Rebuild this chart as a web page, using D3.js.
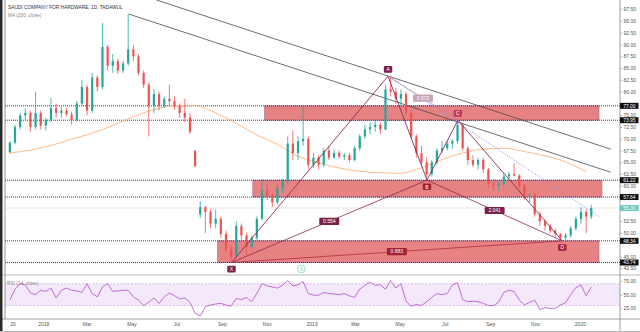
<!DOCTYPE html>
<html><head><meta charset="utf-8">
<script src="https://cdn.jsdelivr.net/npm/d3@7"></script>
<style>
html,body{margin:0;padding:0;background:#fff;}
svg{display:block;font-family:"Liberation Sans",Arial,sans-serif;}
</style></head><body>
<svg id="chart" width="640" height="332"></svg>
<script>
// ---------------- DATA ----------------
const title = "SAUDI COMPANY FOR HARDWARE, 1D, TADAWUL";
const maTitle = "MA (200, close)";
const rsiTitle = "RSI (14, close)";
const candleStart = "2017-11-13";
const candleStepDays = 7;
// weekly [open, high, low, close]
const candles = [
[67.2,69.5,66.8,69.2],[69.2,73.0,68.8,72.5],[72.5,75.5,72.0,75.0],[75.0,76.5,74.0,75.5],
[75.5,76.0,71.5,72.5],[72.5,80.0,72.0,75.5],[75.5,76.0,72.0,72.8],[72.8,74.5,71.8,74.0],
[74.0,78.7,73.5,76.5],[76.5,77.5,74.5,75.5],[75.5,76.8,74.5,76.0],[76.0,76.5,74.8,75.2],
[75.2,75.8,73.0,74.0],[74.0,78.0,73.8,77.5],[77.5,82.5,77.0,81.0],[81.0,81.5,75.0,76.0],
[76.0,84.0,75.5,83.0],[83.0,83.5,80.0,81.0],[81.0,94.6,80.5,89.5],[89.5,90.0,84.5,85.5],
[85.5,88.0,84.0,86.5],[86.5,87.0,83.8,84.5],[84.5,86.5,84.0,86.0],[86.0,96.5,85.5,89.0],
[89.0,90.0,86.5,87.5],[87.5,88.0,83.5,84.0],[84.0,84.5,80.8,81.5],[81.5,82.0,70.5,77.0],
[77.0,80.5,75.5,79.5],[79.5,80.0,76.0,77.0],[77.0,79.0,76.5,78.5],[78.5,81.5,77.0,78.0],
[78.0,79.0,76.2,77.0],[77.0,77.5,74.5,75.5],[75.5,78.5,73.5,74.5],[74.5,75.5,71.0,71.5],
[67.5,67.5,64.0,64.2],[54.0,56.8,53.2,55.5],[55.5,55.8,50.0,54.5],[54.5,55.0,51.0,52.0],
[52.0,55.0,51.0,53.0],[53.0,53.5,49.0,49.8],[49.8,50.5,46.0,46.5],[46.5,47.5,43.8,45.0],
[45.0,52.5,44.8,51.5],[51.5,52.0,48.5,49.5],[49.5,50.0,45.5,47.0],[47.0,49.5,46.5,49.0],
[49.0,53.5,48.5,53.0],[53.0,61.5,52.8,59.0],[59.0,60.5,57.0,58.0],[58.0,58.5,55.5,56.5],
[56.5,60.5,56.0,59.5],[59.5,61.5,58.5,61.0],[61.0,70.5,60.5,69.0],[69.0,71.8,65.5,67.0],
[67.0,70.5,65.5,69.5],[69.5,76.8,68.5,70.0],[70.0,70.5,63.5,64.5],[64.5,67.0,63.8,66.0],
[66.0,66.5,63.5,64.5],[64.5,68.0,64.0,67.5],[67.5,68.5,65.5,66.0],[66.0,67.8,65.8,67.0],
[67.0,67.5,65.8,66.2],[66.2,67.0,65.5,66.5],[66.5,67.0,65.0,65.5],[65.5,68.5,65.2,68.0],
[68.0,71.0,67.5,70.5],[70.5,73.0,70.0,72.0],[72.0,73.5,71.0,72.5],[72.5,73.8,71.5,73.0],
[73.0,73.5,71.0,72.0],[72.0,81.5,71.8,80.5],[80.5,83.4,79.0,80.0],[80.0,80.8,77.5,78.5],
[78.5,80.5,77.0,79.5],[79.5,80.0,75.0,75.5],[75.5,76.0,70.0,70.5],[70.5,71.0,66.0,67.0],
[67.0,68.5,64.5,65.0],[65.0,66.0,61.3,62.5],[62.5,65.5,62.0,65.0],[65.0,68.0,64.5,67.5],
[67.5,69.5,67.0,68.0],[68.0,69.5,67.5,69.0],[69.0,70.0,67.8,69.5],[69.5,73.6,69.0,73.0],
[73.0,73.2,67.5,68.0],[68.0,68.5,64.5,65.5],[65.5,66.5,64.0,64.5],[64.5,66.0,63.5,65.5],
[65.5,66.0,62.8,63.5],[63.5,63.8,59.5,60.5],[60.5,61.5,59.0,60.0],[60.0,61.0,59.0,60.5],
[60.5,62.8,60.0,62.0],[62.0,63.0,61.0,62.5],[62.5,64.8,62.0,62.2],[62.2,62.5,59.5,60.0],
[60.0,60.5,57.0,58.0],[58.0,58.5,56.5,58.2],[58.2,58.5,53.5,54.0],[54.0,54.5,51.5,52.5],
[52.5,53.0,50.5,51.5],[51.5,52.0,50.0,50.5],[50.5,51.0,49.2,49.8],[49.8,50.0,48.5,49.0],
[49.0,50.0,48.4,49.5],[49.5,51.5,49.0,51.0],[51.0,53.5,50.5,53.0],[53.0,55.5,52.0,54.5],
[54.5,55.0,50.0,53.5],[53.5,56.0,53.0,55.3]
];
// RSI(14) read at each weekly candle
const rsiValues = [40,60,70,68,53,50,58,56,62,44,58,62,58,57,54,70,52,46,64,70,
56,57,58,58,46,40,30,36,44,34,46,53,48,42,44,36,16,11,28,31,
33,34,31,29,43,41,45,37,52,70,66,64,62,67,76,66,68,74,52,49,
49,54,52,51,50,52,48,45,60,67,73,67,68,60,76,62,70,38,29,32,
30,37,45,52,50,52,68,72,41,37,38,37,34,30,30,36,54,58,56,40,
31,36,40,23,26,25,25,31,35,50,63,68,48,64];
// MA(200) read every 4th weekly candle
const maEvery = 4;
const maValues = [67.0,67.6,68.6,69.9,71.2,72.8,74.7,76.2,77.0,77.0,75.5,73.3,70.8,68.8,
66.3,64.9,63.8,63.1,62.8,62.7,63.9,65.6,67.0,67.8,68.0,67.3,66.4,65.1,63.0];

const priceTicks = [42.5,45,47.5,50,52.5,55,57.5,60,62.5,65,67.5,70,72.5,75,77.5,80,82.5,85,87.5,90,92.5,95,97.5];
const rsiTicks = [75,50,25];
const levelPrices = [77.00, 73.95, 61.22, 57.64, 48.34, 43.74];
const lastPrice = 55.30;
const zones = [
  {from:"2018-10-29", to:"2020-01-27", top:77.00, bottom:73.95},
  {from:"2018-10-13", to:"2020-01-31", top:61.22, bottom:57.64},
  {from:"2018-08-26", to:"2020-01-27", top:48.34, bottom:43.74}
];
const channels = [
  [["2018-06-04", 99.47], ["2020-02-12", 67.8]],
  [["2018-04-27", 96.5], ["2020-02-12", 62.9]]
];
const patternNames = ["X","A","B","C","D"];
const patternDates = ["2018-09-14","2019-04-15","2019-06-07","2019-07-19","2019-12-08"];
const patternPrices = [43.74, 83.3, 61.22, 73.95, 48.34];
const ratioLegs = [["X","B"],["A","C"],["B","D"],["X","D"]];
const ratioValues = ["0.554","0.572","2.041","0.883"];
const blueTrend = [["2019-04-15", 83.3], ["2020-01-28", 53.4]];
const eventDate = "2018-12-18";
const eventLabel = "S";
const timeTickDates = ["2017-11-20","2018-01-01","2018-03-01","2018-05-01","2018-07-01","2018-09-01","2018-11-01",
  "2019-01-01","2019-03-01","2019-05-01","2019-07-01","2019-09-01","2019-11-01","2020-01-01"];
const timeTickLabels = ["20","2018","Mar","May","Jul","Sep","Nov","2019","Mar","May","Jul","Sep","Nov","2020"];

// ---------------- LAYOUT ----------------
const parse = d3.utcParse("%Y-%m-%d");
const svg = d3.select("#chart");
const L = 5, R = 620, mainTop = 0, mainBottom = 275, rsiTop = 275, rsiBottom = 319;
const DAY = 864e5;
const x = d3.scaleUtc().domain([parse("2018-01-01"), parse("2020-01-01")]).range([43.3, 579.9]);
const y = d3.scaleLinear().domain([41.09, 99.47]).range([mainBottom, mainTop]);
const yr = d3.scaleLinear().domain([5.4, 86]).range([rsiBottom, rsiTop]);
const start = parse(candleStart);
const cDate = i => new Date(start.getTime() + (i * candleStepDays + 3.5) * DAY);

const UP = "#26a69a", DOWN = "#ef5350";

svg.append("rect").attr("width", 640).attr("height", 332).attr("fill", "#fff");

const defs = svg.append("defs");
defs.append("clipPath").attr("id", "mainClip").append("rect")
  .attr("x", L).attr("y", mainTop).attr("width", R - L).attr("height", mainBottom - mainTop);
defs.append("clipPath").attr("id", "rsiClip").append("rect")
  .attr("x", L).attr("y", rsiTop).attr("width", R - L).attr("height", rsiBottom - rsiTop);

const main = svg.append("g").attr("clip-path", "url(#mainClip)");

// zones
main.selectAll("rect.zone").data(zones).join("rect").attr("class", "zone")
  .attr("x", d => x(parse(d.from))).attr("width", d => x(parse(d.to)) - x(parse(d.from)))
  .attr("y", d => y(d.top)).attr("height", d => y(d.bottom) - y(d.top))
  .attr("fill", "rgb(228,116,116)").attr("fill-opacity", 0.9)
  .attr("stroke", "#9a6f9c").attr("stroke-width", 0.6);

// level dotted lines
main.selectAll("line.lvl").data(levelPrices).join("line")
  .attr("x1", L).attr("x2", R).attr("y1", d => y(d)).attr("y2", d => y(d))
  .attr("stroke", "#222").attr("stroke-width", 0.9).attr("stroke-dasharray", "1,1");
main.append("line").attr("x1", L).attr("x2", R).attr("y1", y(lastPrice)).attr("y2", y(lastPrice))
  .attr("stroke", "#8fd6cf").attr("stroke-width", 0.8).attr("stroke-dasharray", "1,1");

// MA
main.append("path").datum(maValues)
  .attr("d", d3.line().x((d, i) => x(cDate(i * maEvery))).y(d => y(d)).curve(d3.curveMonotoneX))
  .attr("fill", "none").attr("stroke", "#ffb98a").attr("stroke-width", 1);

// channel lines
main.selectAll("line.ch").data(channels).join("line")
  .attr("x1", d => x(parse(d[0][0]))).attr("y1", d => y(d[0][1]))
  .attr("x2", d => x(parse(d[1][0]))).attr("y2", d => y(d[1][1]))
  .attr("stroke", "#4a4a4a").attr("stroke-width", 0.8);

// candles
const bw = 2.2;
const cg = main.append("g");
candles.forEach((c, i) => {
  const [o, h, l, cl] = c;
  const col = cl >= o ? UP : DOWN;
  const cx = x(cDate(i));
  cg.append("line").attr("x1", cx).attr("x2", cx).attr("y1", y(h)).attr("y2", y(l))
    .attr("stroke", col).attr("stroke-width", 0.8);
  const top = y(Math.max(o, cl)), bot = y(Math.min(o, cl));
  cg.append("rect").attr("x", cx - bw / 2).attr("width", bw)
    .attr("y", top).attr("height", Math.max(0.8, bot - top)).attr("fill", col);
});

// blue dotted trend
main.append("line")
  .attr("x1", x(parse(blueTrend[0][0]))).attr("y1", y(blueTrend[0][1]))
  .attr("x2", x(parse(blueTrend[1][0]))).attr("y2", y(blueTrend[1][1]))
  .attr("stroke", "#7f8cf0").attr("stroke-width", 0.9).attr("stroke-dasharray", "1.2,1.6");

// pattern
const P = {};
patternNames.forEach((n, i) => P[n] = {x: x(parse(patternDates[i])), y: y(patternPrices[i])});
const legColor = "#8c2a55";
const legs = [["X","A"],["A","B"],["B","C"],["C","D"]];
main.selectAll("line.leg").data(legs).join("line")
  .attr("x1", d => P[d[0]].x).attr("y1", d => P[d[0]].y)
  .attr("x2", d => P[d[1]].x).attr("y2", d => P[d[1]].y)
  .attr("stroke", legColor).attr("stroke-width", 0.9);
main.selectAll("line.rleg").data(ratioLegs).join("line")
  .attr("x1", d => P[d[0]].x).attr("y1", d => P[d[0]].y)
  .attr("x2", d => P[d[1]].x).attr("y2", d => P[d[1]].y)
  .attr("stroke", (d, i) => i === 3 ? "#b0303f" : i === 1 ? "#b58aa0" : legColor)
  .attr("stroke-width", 0.8);

// ratio labels
ratioLegs.forEach((d, i) => {
  const mx = (P[d[0]].x + P[d[1]].x) / 2, my = (P[d[0]].y + P[d[1]].y) / 2;
  const g = main.append("g").attr("transform", `translate(${mx},${my})`);
  const bg = i === 1 ? "#c9a3b8" : i === 3 ? "#a51f35" : "#7d2149";
  g.append("rect").attr("x", -10).attr("y", -3.6).attr("width", 20).attr("height", 7.2)
    .attr("rx", 1).attr("fill", bg);
  g.append("text").attr("text-anchor", "middle").attr("dy", "1.8").attr("font-size", 5)
    .attr("fill", "#fff").text(ratioValues[i]);
});

// point labels
patternNames.forEach((n, i) => {
  const up = (n === "A" || n === "C");
  const ly = up ? P[n].y - 6.8 : P[n].y + 6.6;
  const bg = (n === "X" || n === "A") ? "#7d2149" : (n === "C" ? "#c0395a" : "#a51f35");
  const g = main.append("g").attr("transform", `translate(${P[n].x},${ly})`);
  g.append("rect").attr("x", -4.2).attr("y", -3.3).attr("width", 8.4).attr("height", 6.6)
    .attr("rx", 1).attr("fill", bg);
  g.append("text").attr("text-anchor", "middle").attr("dy", "1.8").attr("font-size", 5)
    .attr("fill", "#fff").text(n);
});

// event marker
const ev = main.append("g").attr("transform", `translate(${x(parse(eventDate))},${mainBottom - 6})`);
ev.append("circle").attr("r", 3.8).attr("fill", "#fff").attr("stroke", "#7fd3b0").attr("stroke-width", 0.8);
ev.append("text").attr("text-anchor", "middle").attr("dy", "1.7").attr("font-size", 4.8)
  .attr("fill", "#7fd3b0").text(eventLabel);

// ---- RSI pane ----
const rsiG = svg.append("g").attr("clip-path", "url(#rsiClip)");
rsiG.append("rect").attr("x", L).attr("width", R - L).attr("y", yr(70)).attr("height", yr(30) - yr(70))
  .attr("fill", "#f4e8fb");
rsiG.selectAll("line.rb").data([70, 30]).join("line")
  .attr("x1", L).attr("x2", R).attr("y1", d => yr(d)).attr("y2", d => yr(d))
  .attr("stroke", "#cfa9e0").attr("stroke-width", 0.7).attr("stroke-dasharray", "2,1.5");
rsiG.append("path").datum(rsiValues)
  .attr("d", d3.line().x((d, i) => x(cDate(i))).y(d => yr(d)))
  .attr("fill", "none").attr("stroke", "#b760d2").attr("stroke-width", 0.9);

// ---- frame ----
svg.append("line").attr("x1", L).attr("x2", L).attr("y1", 0).attr("y2", rsiBottom).attr("stroke", "#777").attr("stroke-width", 0.8);
svg.append("line").attr("x1", R).attr("x2", R).attr("y1", 0).attr("y2", 332).attr("stroke", "#888").attr("stroke-width", 0.8);
svg.append("line").attr("x1", 0).attr("x2", 640).attr("y1", mainBottom).attr("y2", mainBottom).attr("stroke", "#999").attr("stroke-width", 0.7);
svg.append("line").attr("x1", 0).attr("x2", 640).attr("y1", rsiBottom).attr("y2", rsiBottom).attr("stroke", "#888").attr("stroke-width", 0.8);
svg.append("rect").attr("x", 0).attr("y", 0).attr("width", 2.5).attr("height", 332).attr("fill", "#2a2a2a");
svg.append("line").attr("x1", 0).attr("x2", 640).attr("y1", 331.5).attr("y2", 331.5).attr("stroke", "#bbb").attr("stroke-width", 1);

// ---- price axis ----
const boxPrices = levelPrices.concat([lastPrice]);
const shownTicks = priceTicks.filter(t => boxPrices.every(b => Math.abs(b - t) >= 1));
const pAxis = svg.append("g").attr("transform", `translate(${R},0)`)
  .call(d3.axisRight(y).tickValues(shownTicks).tickSize(2).tickPadding(1.5).tickFormat(d3.format(".2f")));
pAxis.select(".domain").remove();
pAxis.selectAll("line").attr("stroke", "#888").attr("stroke-width", 0.6);
pAxis.selectAll("text").attr("font-size", 5).attr("fill", "#555").attr("font-family", "Liberation Sans, Arial, sans-serif");

// price boxes
boxPrices.forEach(p => {
  const g = svg.append("g").attr("transform", `translate(${R},${y(p)})`);
  g.append("rect").attr("x", 0).attr("y", -3).attr("width", 18.5).attr("height", 6)
    .attr("fill", p === lastPrice ? "#6cc7bc" : "#111");
  g.append("text").attr("x", 9.4).attr("dy", "1.8").attr("text-anchor", "middle").attr("font-size", 5)
    .attr("fill", "#fff").text(d3.format(".2f")(p));
});

// rsi axis
const rAxis = svg.append("g").attr("transform", `translate(${R},0)`)
  .call(d3.axisRight(yr).tickValues(rsiTicks).tickSize(2).tickPadding(1.5).tickFormat(d3.format(".2f")));
rAxis.select(".domain").remove();
rAxis.selectAll("line").attr("stroke", "#888").attr("stroke-width", 0.6);
rAxis.selectAll("text").attr("font-size", 5).attr("fill", "#555").attr("font-family", "Liberation Sans, Arial, sans-serif");

// time axis
const tAxis = svg.append("g").attr("transform", `translate(0,${rsiBottom})`)
  .call(d3.axisBottom(x).tickValues(timeTickDates.map(parse)).tickSize(0).tickPadding(3)
    .tickFormat((d, i) => timeTickLabels[i]));
tAxis.select(".domain").remove();
tAxis.selectAll("text").attr("font-size", 5).attr("fill", "#555").attr("font-family", "Liberation Sans, Arial, sans-serif");

// titles
svg.append("text").attr("x", 8).attr("y", 8.5).attr("font-size", 4.8).attr("fill", "#333").text(title);
svg.append("text").attr("x", 8).attr("y", 16.5).attr("font-size", 4.8).attr("fill", "#888").text(maTitle);
svg.append("text").attr("x", 7).attr("y", 284.5).attr("font-size", 4.8).attr("fill", "#888").text(rsiTitle);
</script>
</body></html>
